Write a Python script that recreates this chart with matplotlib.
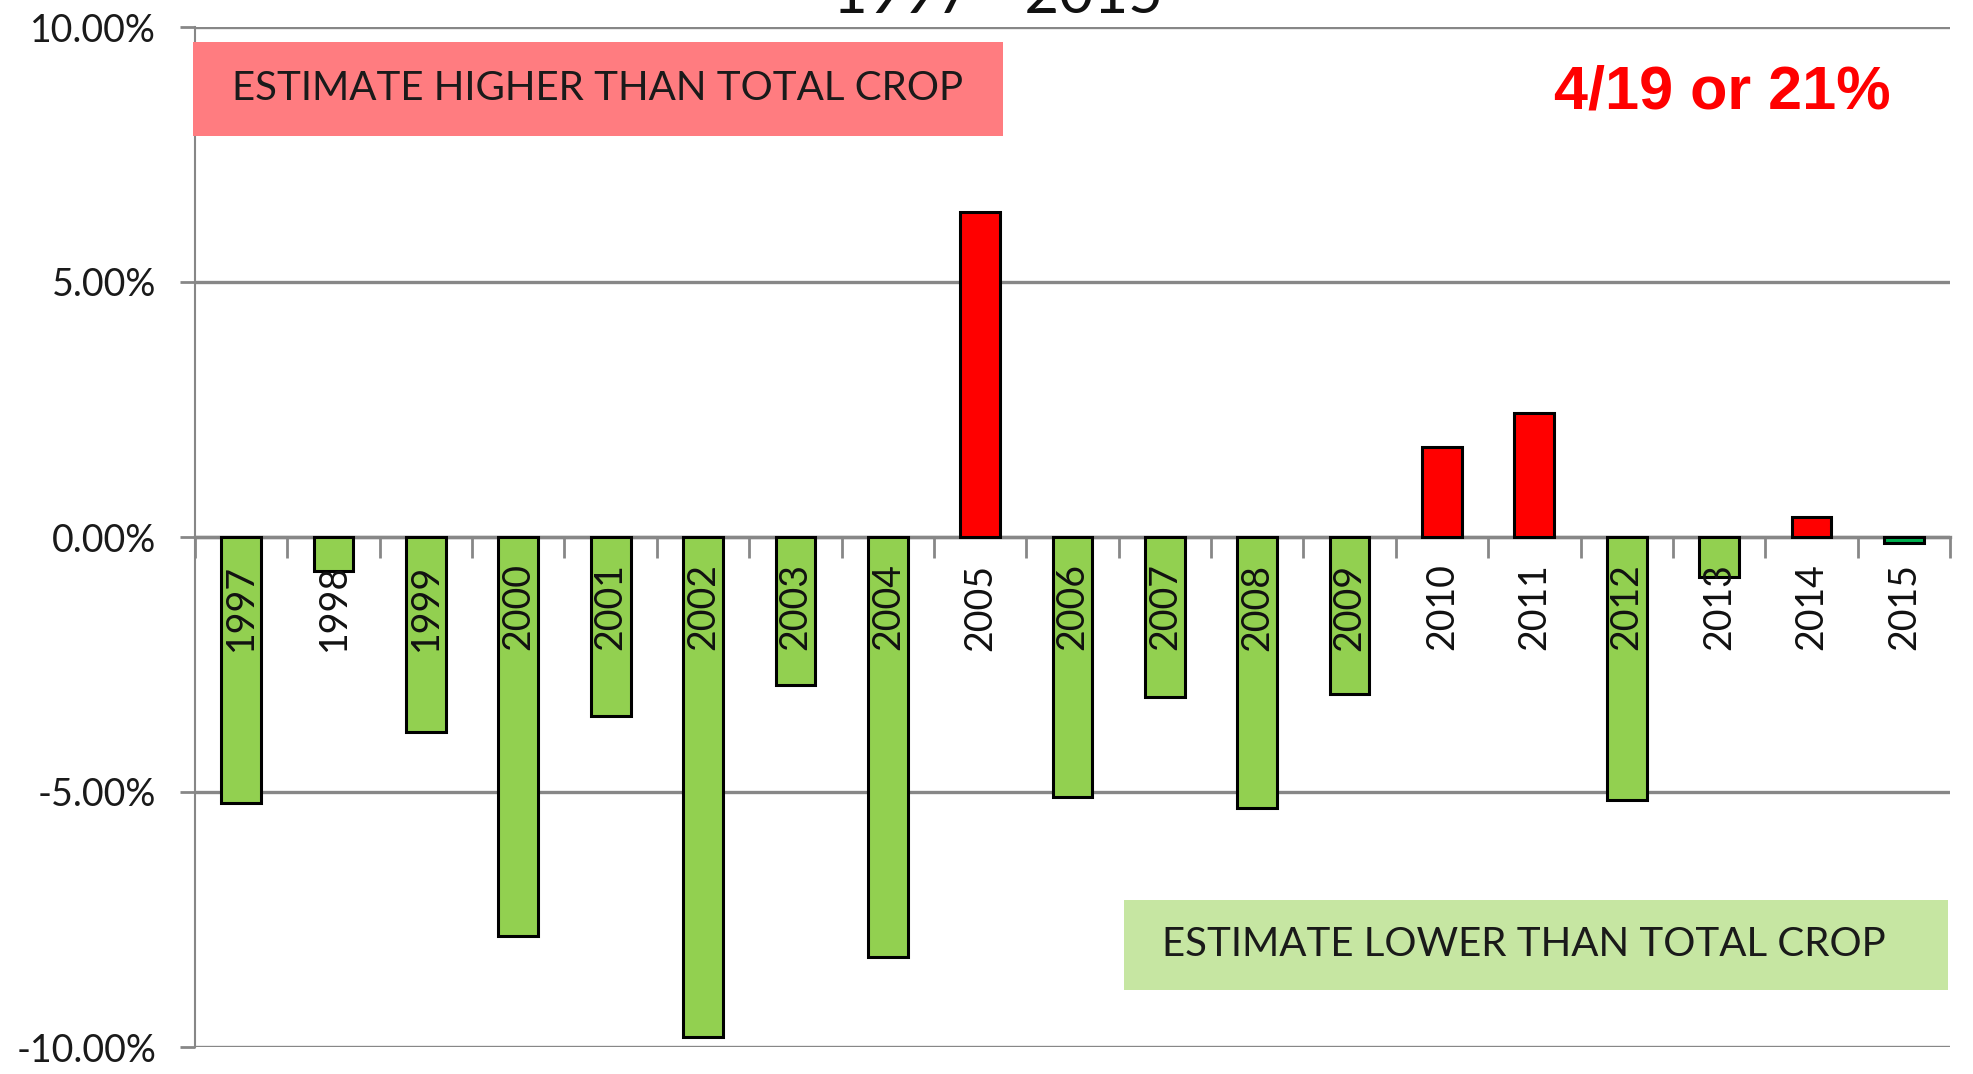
import numpy as np
import matplotlib
matplotlib.use('Agg')
import matplotlib.pyplot as plt
from matplotlib.patches import Rectangle
from matplotlib.ticker import FixedLocator

plt.rcParams['font.family'] = ['Lato', 'DejaVu Sans']

# данные: отклонение оценки от итогового урожая, %
years = ['1997', '1998', '1999', '2000', '2001', '2002', '2003', '2004', '2005', '2006',
         '2007', '2008', '2009', '2010', '2011', '2012', '2013', '2014', '2015']
diff_pct = [-5.22, -0.66, -3.82, -7.83, -3.50, -9.80, -2.91, -8.23, 6.38, -5.10,
            -3.13, -5.32, -3.08, 1.77, 2.44, -5.15, -0.79, 0.39, -0.12]
y_ticks = [-10, -5, 0, 5, 10]
y_labels = ['-10.00%', '-5.00%', '0.00%', '5.00%', '10.00%']

GRID = '#878787'
GREEN = '#92D050'
RED = '#FF0000'
W, H = 1973, 1074

fig = plt.figure(figsize=(W / 100, H / 100), dpi=100)
ax = fig.add_axes([195 / W, 27 / H, (1950 - 195) / W, (1047 - 27) / H])

x = np.arange(len(years))
colors = [RED if v > 0 else GREEN for v in diff_pct]
colors[-1] = '#00B050'  # последний год другим зелёным
ax.bar(x, diff_pct, width=0.43, color=colors, edgecolor='black', linewidth=2.2, zorder=3)

ax.set_xlim(-0.5, len(years) - 0.5)
ax.set_ylim(-10, 10)
ax.set_axisbelow(True)

# сетка и ось Y
ax.set_yticks(y_ticks)
ax.set_yticklabels(y_labels, fontsize=27, color='#1a1a1a')
ax.yaxis.grid(True, color=GRID, linewidth=2.4)
ax.tick_params(axis='y', direction='out', length=11, width=2, color=GRID, pad=17)

for s in ['top', 'right']:
    ax.spines[s].set_visible(False)
ax.spines['left'].set_color(GRID)
ax.spines['left'].set_linewidth(1.5)
ax.spines['bottom'].set_position(('data', 0))
ax.spines['bottom'].set_color(GRID)
ax.spines['bottom'].set_linewidth(2.4)

# деления между категориями
ax.xaxis.set_major_locator(FixedLocator(x))
ax.xaxis.set_minor_locator(FixedLocator(np.arange(len(years) + 1) - 0.5))
ax.tick_params(axis='x', which='major', length=0, labelbottom=False)
ax.tick_params(axis='x', which='minor', direction='out', length=15, width=2, color=GRID)

# подписи годов поверх столбцов
for xi, yr in zip(x, years):
    ax.annotate(yr, (xi, 0), xytext=(0, -19), textcoords='offset points',
                rotation=90, ha='center', va='top', fontsize=27, color='#111111', zorder=5)

# заголовок (обрезан сверху)
fig.text(998 / W, 1 - 13 / H, '1997 - 2015', ha='center', va='baseline', fontsize=43, color='#111111')

# плашки
fig.add_artist(Rectangle((193 / W, 1 - 136 / H), 810 / W, 94 / H, transform=fig.transFigure,
                         facecolor='#FF7C80', edgecolor='none', zorder=6))
fig.text(598 / W, 1 - 89 / H, 'ESTIMATE HIGHER THAN TOTAL CROP', ha='center', va='center',
         fontsize=29, color='#1a1a1a', zorder=7)

fig.add_artist(Rectangle((1124 / W, 1 - 990 / H), 824 / W, 90 / H, transform=fig.transFigure,
                         facecolor='#C6E6A2', edgecolor='none', zorder=6))
fig.text(1524 / W, 1 - 945 / H, 'ESTIMATE LOWER THAN TOTAL CROP', ha='center', va='center',
         fontsize=29, color='#1a1a1a', zorder=7)

fig.text(1722 / W, 1 - 109 / H, '4/19 or 21%', ha='center', va='baseline',
         fontsize=44, fontweight='bold', color=RED, family=['Liberation Sans', 'DejaVu Sans'])

fig.savefig('out.png', dpi=100)
